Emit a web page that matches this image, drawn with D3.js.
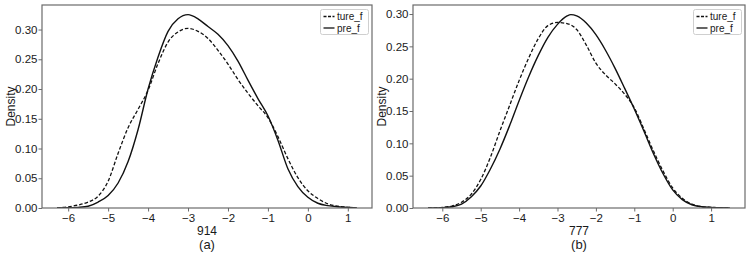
<!DOCTYPE html>
<html>
<head>
<meta charset="utf-8">
<script src="https://cdn.jsdelivr.net/npm/d3@7"></script>
<style>
  body { margin: 0; background: #fff; }
  svg { display: block; font-family: "Liberation Sans", Arial, sans-serif; }
</style>
</head>
<body>
<svg id="chart" width="749" height="253"></svg>
<script>
// tick labels
const xTicks = [-6, -5, -4, -3, -2, -1, 0, 1]
const yTicks = [0, 0.05, 0.10, 0.15, 0.20, 0.25, 0.30]
const seriesNames = ['ture_f', 'pre_f']

// panel (a): 914
const xA = [-6.28, -6.0, -5.75, -5.5, -5.25, -5.0, -4.75, -4.5, -4.25, -4.0, -3.75, -3.5, -3.25, -3.0,
	-2.75, -2.5, -2.25, -2.0, -1.75, -1.5, -1.25, -1.0, -0.75, -0.5, -0.25, 0, 0.25, 0.5, 0.75, 1.0, 1.23]
const tureA = [0, 0.002, 0.005, 0.010, 0.020, 0.045, 0.092, 0.135, 0.166, 0.198, 0.243, 0.279, 0.296, 0.302,
	0.297, 0.285, 0.265, 0.242, 0.216, 0.193, 0.172, 0.152, 0.120, 0.083, 0.051, 0.029, 0.016, 0.007, 0.003, 0.0012, 0]
const preA = [0, 0.0003, 0.001, 0.003, 0.010, 0.021, 0.042, 0.078, 0.132, 0.200, 0.254, 0.297, 0.318, 0.325,
	0.318, 0.305, 0.292, 0.273, 0.247, 0.215, 0.184, 0.155, 0.114, 0.066, 0.036, 0.018, 0.008, 0.004, 0.002, 0.001, 0]

// panel (b): 777
const xB = [-6.37, -6.0, -5.75, -5.5, -5.25, -5.0, -4.75, -4.5, -4.25, -4.0, -3.75, -3.5, -3.25, -3.0,
	-2.75, -2.65, -2.5, -2.25, -2.0, -1.75, -1.5, -1.25, -1.0, -0.75, -0.5, -0.25, 0, 0.25, 0.5, 0.75, 1.0, 1.25, 1.49]
const tureB = [0, 0.001, 0.003, 0.009, 0.021, 0.044, 0.078, 0.119, 0.158, 0.197, 0.232, 0.262, 0.282, 0.287,
	0.285, 0.283, 0.276, 0.252, 0.224, 0.206, 0.192, 0.176, 0.155, 0.122, 0.088, 0.057, 0.031, 0.015, 0.006, 0.002, 0.001, 0.0003, 0]
const preB = [0, 0.0005, 0.002, 0.006, 0.017, 0.034, 0.060, 0.091, 0.127, 0.166, 0.203, 0.236, 0.264, 0.284,
	0.297, 0.299, 0.297, 0.286, 0.268, 0.244, 0.216, 0.185, 0.153, 0.119, 0.084, 0.053, 0.028, 0.013, 0.005, 0.002, 0.001, 0.0003, 0]

const svg = d3.select('#chart')
const frameColor = '#6b6b6b'
const textColor = '#1a1a1a'

const drawPanel = (p) => {
	const [xMin, xMax] = d3.extent(p.xs)
	const pad = (xMax - xMin) * 0.05
	const yMax = d3.max([...p.ture, ...p.pre]) * 1.05

	const xScale = d3.scaleLinear()
		.domain([xMin - pad, xMax + pad])
		.range([p.left, p.right])

	const yScale = d3.scaleLinear()
		.domain([0, yMax])
		.range([p.bottom, p.top])

	const g = svg.append('g')

	const line = d3.line()
		.x(d => xScale(d[0]))
		.y(d => yScale(d[1]))
		.curve(d3.curveMonotoneX)

	const clipId = 'clip' + p.name
	svg.append('clipPath').attr('id', clipId)
		.append('rect')
		.attr('x', p.left).attr('y', p.top)
		.attr('width', p.right - p.left).attr('height', p.bottom - p.top)

	const curves = g.append('g').attr('clip-path', `url(#${clipId})`)

	curves.append('path')
		.datum(d3.zip(p.xs, p.ture))
		.attr('d', line)
		.attr('fill', 'none')
		.attr('stroke', '#111')
		.attr('stroke-width', 1.3)
		.attr('stroke-dasharray', '3.6,2')

	curves.append('path')
		.datum(d3.zip(p.xs, p.pre))
		.attr('d', line)
		.attr('fill', 'none')
		.attr('stroke', '#111')
		.attr('stroke-width', 1.4)

	// axes
	const xAxis = d3.axisBottom(xScale)
		.tickValues(xTicks)
		.tickFormat(d3.format('d'))
		.tickSize(3.5)
		.tickPadding(2)
	const yAxis = d3.axisLeft(yScale)
		.tickValues(yTicks)
		.tickFormat(d3.format('.2f'))
		.tickSize(3.5)
		.tickPadding(1)

	const xg = g.append('g')
		.attr('transform', `translate(0, ${p.bottom})`)
		.call(xAxis)
	const yg = g.append('g')
		.attr('transform', `translate(${p.left}, 0)`)
		.call(yAxis)

	for (const ax of [xg, yg]) {
		ax.select('.domain').remove()
		ax.selectAll('.tick line').attr('stroke', frameColor).attr('stroke-width', 1)
		ax.selectAll('.tick text')
			.attr('fill', textColor)
			.attr('font-size', 11.5)
			.attr('font-family', '"Liberation Sans", Arial, sans-serif')
	}

	g.append('rect')
		.attr('x', p.left)
		.attr('y', p.top)
		.attr('width', p.right - p.left)
		.attr('height', p.bottom - p.top)
		.attr('fill', 'none')
		.attr('stroke', frameColor)
		.attr('stroke-width', 1.2)

	// labels
	const cx = (p.left + p.right) / 2
	g.append('text')
		.text(p.xLabel)
		.attr('x', cx)
		.attr('y', 235)
		.attr('text-anchor', 'middle')
		.attr('font-size', 12)
		.attr('fill', textColor)

	g.append('text')
		.text(p.caption)
		.attr('x', cx)
		.attr('y', 248.5)
		.attr('text-anchor', 'middle')
		.attr('font-size', 13)
		.attr('fill', textColor)

	g.append('text')
		.text('Density')
		.attr('transform', `translate(${p.left - 27}, ${(p.top + p.bottom) / 2}) rotate(-90)`)
		.attr('text-anchor', 'middle')
		.attr('font-size', 12)
		.attr('fill', textColor)

	// legend
	const lg = g.append('g')
		.attr('transform', `translate(${p.right - 51.5}, 9.5)`)

	lg.append('rect')
		.attr('width', 48)
		.attr('height', 25)
		.attr('rx', 2)
		.attr('fill', '#fff')
		.attr('fill-opacity', 0.8)
		.attr('stroke', '#cfcfcf')
		.attr('stroke-width', 1)

	seriesNames.forEach((name, i) => {
		const yy = 7 + i * 11.5
		lg.append('line')
			.attr('x1', 3).attr('x2', 14)
			.attr('y1', yy).attr('y2', yy)
			.attr('stroke', '#111')
			.attr('stroke-width', 1.3)
			.attr('stroke-dasharray', i === 0 ? '3,1.5' : null)
		lg.append('text')
			.text(name)
			.attr('x', 16.5)
			.attr('y', yy + 3.5)
			.attr('font-size', 10)
			.attr('fill', textColor)
	})
}

drawPanel({name: 'a', xs: xA, ture: tureA, pre: preA, left: 42, right: 372, top: 5, bottom: 208, xLabel: '914', caption: '(a)'})
drawPanel({name: 'b', xs: xB, ture: tureB, pre: preB, left: 413, right: 745, top: 5, bottom: 208, xLabel: '777', caption: '(b)'})
</script>
</body>
</html>
